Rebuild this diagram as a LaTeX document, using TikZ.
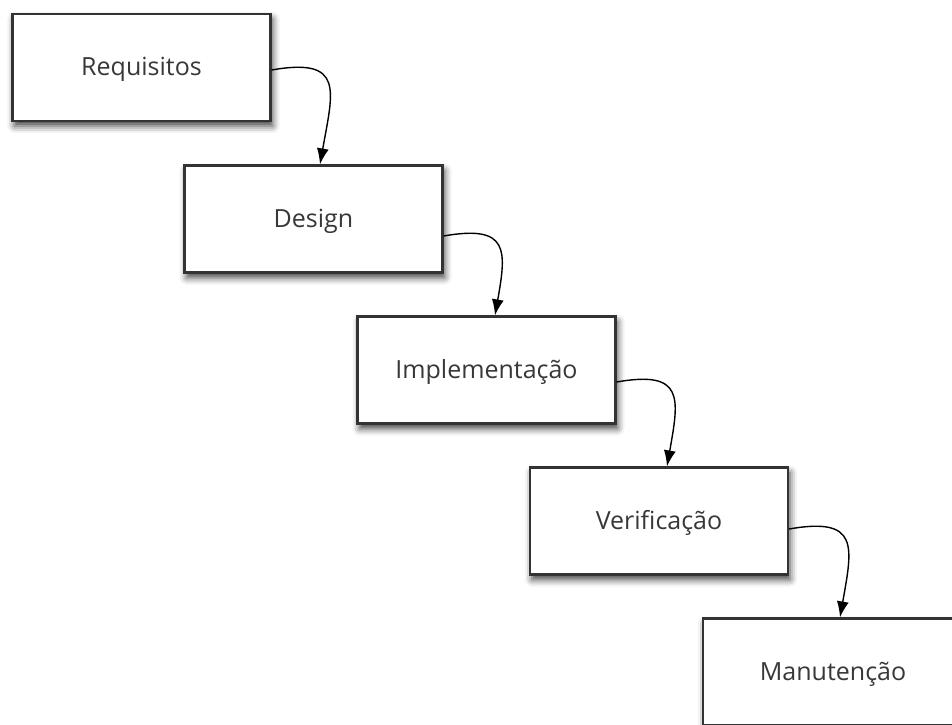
\documentclass[tikz,border=0pt]{standalone}
\usepackage{fontspec}
\setmainfont{Open Sans}
\usetikzlibrary{arrows.meta,shadows.blur}

\tikzset{
  phase/.style={shape=rectangle, draw=black!80, line width=2.2pt, fill=white,
    minimum width=258pt, minimum height=107pt, text=black!78,
    font=\fontsize{25}{30}\selectfont, text depth=2pt,
    blur shadow={shadow xshift=2pt, shadow yshift=-5pt, shadow blur radius=7pt, shadow opacity=75}},
  flow/.style={-{Latex[length=16pt,width=12pt]}, line width=1.4pt, out=10, in=80, looseness=1.8}
}

\begin{document}
\begin{tikzpicture}[x=1pt,y=-1pt]
	\useasboundingbox (0,0) rectangle (952,724);
	\clip (0,0) rectangle (952,724);

	\node[phase] (req) at (141.5, 67.5)  {Requisitos};
	
	\node[phase] (des) at (313.5, 219)   {Design};
	
	\node[phase] (imp) at (486.5, 370)   {Implementação};
	
	\node[phase] (ver) at (659, 521)     {Verificação};
	
	\node[phase, minimum width=260pt] (man) at (833, 672) {Manutenção};

	\path[flow] ([yshift=-2.5pt]req.east) edge ([xshift=6.5pt]des.north);
	\path[flow] ([yshift=-17pt]des.east) edge ([xshift=8.5pt]imp.north);
	\path[flow] ([yshift=-12pt]imp.east) edge ([xshift=8pt]ver.north);
	\path[flow] ([yshift=-8pt]ver.east) edge ([xshift=7pt]man.north);
\end{tikzpicture}
\end{document}
